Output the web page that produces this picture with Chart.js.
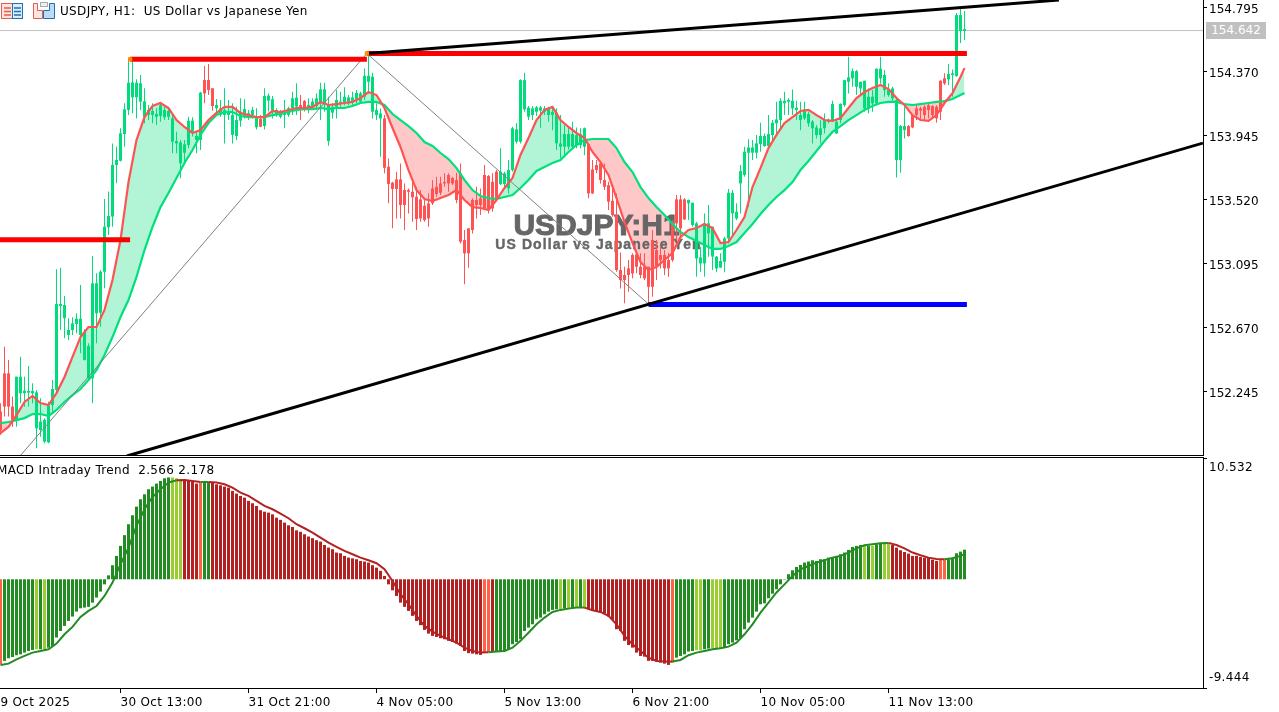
<!DOCTYPE html>
<html>
<head>
<meta charset="utf-8">
<title>USDJPY H1</title>
<script src="https://cdn.jsdelivr.net/npm/chart.js@4"></script>
<style>
  html, body { margin: 0; padding: 0; background: #fff; overflow: hidden; width: 1279px; height: 712px; }
  canvas { position: absolute; }
  .txt { position: absolute; font: 12px "DejaVu Sans", sans-serif; color: #000; white-space: pre; line-height: 16px; letter-spacing: 0.33px; }
  .rule { position: absolute; left: 0; width: 1204px; height: 1px; background: #000; }
  #lastPrice { left: 1206px; top: 22px; width: 60px; height: 17px; line-height: 17px; background: #c0c0c0; color: #fff; text-align: center; letter-spacing: 0; }
  #icons { position: absolute; left: 0; top: 0; }
</style>
</head>
<body>
<canvas id="priceChart" width="1295" height="455" style="left:-16px;top:0"></canvas>
<canvas id="macdChart" width="1295" height="262" style="left:-16px;top:450px"></canvas>
<div class="rule" style="top:455px"></div>
<div class="rule" style="top:457px"></div>
<svg id="icons" width="58" height="22">
  <rect x="1.5" y="3.5" width="11" height="15" fill="#fde3df" stroke="#e0604f"/>
  <rect x="12.5" y="3.5" width="10" height="15" fill="#dcecf8" stroke="#1f6fb2"/>
  <path d="M4 8h7M4 11.5h7M4 15h7" stroke="#e0604f" stroke-width="1.5"/>
  <path d="M14 8h7M14 11.5h7M14 15h7" stroke="#1f6fb2" stroke-width="1.5"/>
  <path d="M33.5 3.5h4v7h5v8h-9z" fill="#fde3df" stroke="#e0604f"/>
  <path d="M49.5 3.5h5v15h-11v-8h6z" fill="#bcdcf4" stroke="#1f6fb2"/>
  <rect x="40.5" y="2.5" width="7" height="4" fill="#eee" stroke="#aaa"/>
</svg>
<div class="txt" style="left:60px;top:3px">USDJPY, H1:  US Dollar vs Japanese Yen</div>
<div class="txt" style="left:-3px;top:462px">MACD Intraday Trend  2.566 2.178</div>
<div class="txt" id="lastPrice">154.642</div>

<script>
const symbolTitle = 'USDJPY:H1';
const symbolName = 'US Dollar vs Japanese Yen';
const lastPrice = 154.642;

const priceTicks = [154.795, 154.370, 153.945, 153.520, 153.095, 152.670, 152.245];
const macdTicks = [10.532, -9.444];
const timeTickBars = [-2, 30, 62, 94, 126, 158, 190, 222];
const timeTickLabels = ['29 Oct 2025', '30 Oct 13:00', '31 Oct 21:00', '4 Nov 05:00', '5 Nov 13:00', '6 Nov 21:00', '10 Nov 05:00', '11 Nov 13:00'];

// H1 candles, one value per bar
const highs = [
  152.167,152.543,152.455,152.212,152.344,152.477,152.344,152.415,152.300,152.256,
  152.200,152.068,152.178,152.322,153.057,153.068,152.880,152.732,152.738,152.765,
  152.953,152.659,152.566,153.145,153.030,153.052,153.524,153.573,153.893,153.871,
  153.993,154.159,154.451,154.442,154.318,154.347,154.259,154.148,154.159,154.126,
  154.159,154.137,154.137,154.093,153.971,153.916,153.916,154.070,154.066,153.971,
  154.236,154.407,154.420,154.259,154.188,154.181,154.259,154.181,154.159,154.137,
  154.192,154.186,154.115,154.137,154.126,154.082,154.259,154.225,154.208,154.126,
  154.115,154.181,154.137,154.236,154.292,154.214,154.181,154.192,154.192,154.225,
  154.296,154.296,154.203,154.159,154.247,154.236,154.265,154.214,154.236,154.247,
  154.236,154.391,154.502,154.362,154.159,154.125,154.081,153.793,153.638,153.705,
  153.760,153.627,153.594,153.650,153.605,153.583,153.517,153.561,153.650,153.672,
  153.672,153.694,153.694,153.672,153.698,153.760,153.318,153.329,153.528,153.605,
  153.594,153.749,153.683,153.694,153.716,153.860,153.705,153.782,154.004,154.026,
  154.318,154.362,154.141,154.141,154.141,154.141,154.141,154.136,154.136,154.125,
  154.081,154.015,154.004,154.037,153.999,153.993,153.999,153.893,153.782,153.782,
  153.771,153.760,153.638,153.594,153.561,153.169,153.074,153.118,153.163,153.163,
  153.163,153.163,153.074,153.318,153.251,153.207,153.185,153.163,153.384,153.550,
  153.550,153.528,153.521,153.499,153.373,153.207,153.428,153.484,153.340,153.145,
  153.163,153.273,153.590,153.583,153.495,153.749,153.871,153.920,153.915,153.948,
  154.030,153.959,154.081,154.048,154.170,154.192,154.236,154.192,154.251,154.176,
  154.170,154.170,154.103,154.048,154.015,154.048,154.092,154.059,154.176,154.048,
  154.159,154.313,154.468,154.391,154.380,154.302,154.309,154.258,154.247,154.391,
  154.468,154.380,154.291,154.269,154.192,154.015,154.136,154.015,154.088,154.147,
  154.136,154.147,154.159,154.147,154.147,154.313,154.358,154.420,154.384,154.759,
  154.792,154.772
];
const lows = [
  151.957,152.079,152.079,152.012,152.012,152.167,152.145,152.145,152.167,151.868,
  151.946,151.902,151.902,152.101,152.234,152.654,152.599,152.588,152.621,152.632,
  152.499,152.451,152.320,152.167,152.566,152.676,152.931,153.285,153.340,153.628,
  153.772,153.871,154.082,154.093,154.059,154.115,154.026,154.048,154.026,154.015,
  154.037,154.048,154.048,153.827,153.827,153.661,153.761,153.860,153.938,153.827,
  153.849,154.159,154.214,154.110,154.082,154.070,153.893,154.048,153.893,153.916,
  154.004,154.059,154.048,154.059,153.986,154.000,153.986,154.104,154.059,154.070,
  154.059,153.993,154.070,154.082,154.082,154.048,154.104,154.093,154.115,154.115,
  154.048,154.103,153.877,154.059,154.059,154.125,154.147,154.147,154.147,154.159,
  154.159,154.181,154.225,154.059,154.048,153.804,153.694,153.495,153.329,153.395,
  153.395,153.318,153.428,153.373,153.318,153.373,153.373,153.340,153.484,153.539,
  153.550,153.605,153.572,153.616,153.495,153.229,152.957,153.068,153.295,153.395,
  153.417,153.450,153.428,153.439,153.517,153.616,153.594,153.561,153.705,153.893,
  153.893,154.103,154.048,154.048,154.074,153.996,154.081,154.037,153.981,153.849,
  153.793,153.804,153.853,153.860,153.860,153.860,153.815,153.528,153.557,153.694,
  153.627,153.583,153.450,153.406,153.041,152.930,152.831,152.908,152.997,153.030,
  152.997,152.986,152.831,152.875,152.986,153.063,153.019,153.008,153.107,153.251,
  153.273,153.384,153.384,153.340,153.008,153.041,153.008,153.141,153.052,153.037,
  153.068,153.037,153.229,153.273,153.384,153.428,153.672,153.473,153.782,153.793,
  153.838,153.871,153.871,153.904,153.959,153.993,154.081,154.081,154.081,154.048,
  153.981,154.048,154.004,153.893,153.926,153.893,153.959,154.026,154.037,153.955,
  154.026,154.136,154.225,154.269,154.214,154.214,154.103,154.092,154.103,154.154,
  154.291,154.203,154.203,154.170,153.667,153.698,153.926,153.937,153.993,154.048,
  154.048,154.048,154.059,154.059,154.030,154.048,154.280,154.280,154.203,154.335,
  154.559,154.579
];
const bodyTops = [
  152.112,152.366,152.366,152.145,152.344,152.344,152.251,152.249,152.249,152.240,
  152.046,152.057,152.152,152.262,152.827,152.827,152.820,152.654,152.698,152.729,
  152.729,152.643,152.548,152.964,152.964,153.041,153.340,153.411,153.750,153.783,
  153.960,154.119,154.296,154.298,154.296,154.292,154.172,154.115,154.108,154.088,
  154.146,154.115,154.108,154.059,153.909,153.900,153.887,154.044,154.044,153.942,
  154.230,154.314,154.314,154.259,154.148,154.126,154.115,154.104,154.082,154.048,
  154.104,154.121,154.093,154.115,154.064,154.055,154.208,154.210,154.186,154.115,
  154.104,154.093,154.126,154.192,154.197,154.148,154.174,154.148,154.170,154.192,
  154.252,154.252,154.147,154.136,154.181,154.170,154.203,154.198,154.198,154.229,
  154.225,154.342,154.342,154.336,154.114,154.092,154.059,153.738,153.632,153.654,
  153.654,153.583,153.583,153.572,153.539,153.521,153.479,153.495,153.594,153.605,
  153.627,153.636,153.683,153.663,153.650,153.694,153.251,153.329,153.517,153.517,
  153.528,153.683,153.676,153.638,153.705,153.705,153.694,153.716,153.993,153.986,
  154.313,154.313,154.130,154.125,154.132,154.132,154.125,154.125,154.103,154.097,
  153.893,153.955,153.955,153.955,153.948,153.955,153.993,153.889,153.720,153.749,
  153.760,153.650,153.616,153.512,153.417,153.052,153.019,153.063,153.152,153.156,
  153.074,153.074,153.074,153.251,153.185,153.152,153.152,153.118,153.373,153.521,
  153.521,153.521,153.517,153.499,153.362,153.136,153.362,153.362,153.340,153.141,
  153.112,153.262,153.565,153.565,153.439,153.709,153.838,153.866,153.866,153.893,
  153.942,153.942,153.955,154.030,154.052,154.176,154.176,154.181,154.176,154.130,
  154.081,154.119,154.088,154.037,153.999,153.993,154.048,154.048,154.154,154.037,
  154.154,154.313,154.331,154.373,154.373,154.302,154.309,154.203,154.203,154.389,
  154.389,154.347,154.251,154.258,154.181,154.008,154.008,154.008,154.081,154.125,
  154.125,154.136,154.147,154.141,154.136,154.309,154.325,154.354,154.358,154.745,
  154.745,154.652
];
const bodyBottoms = [
  151.990,152.145,152.145,152.057,152.057,152.234,152.234,152.238,152.234,152.001,
  151.990,151.913,151.908,152.156,152.256,152.813,152.732,152.621,152.654,152.694,
  152.621,152.455,152.333,152.333,152.765,152.769,153.041,153.336,153.407,153.750,
  153.778,153.955,154.115,154.199,154.199,154.170,154.070,154.082,154.082,154.070,
  154.075,154.066,154.070,153.904,153.893,153.761,153.831,153.882,153.971,153.916,
  153.916,154.225,154.247,154.141,154.126,154.082,154.082,154.082,153.949,153.942,
  154.044,154.075,154.070,154.082,154.000,154.004,154.009,154.177,154.110,154.082,
  154.070,154.082,154.082,154.126,154.137,154.115,154.115,154.126,154.132,154.141,
  154.159,154.159,153.908,154.097,154.136,154.159,154.159,154.159,154.170,154.181,
  154.170,154.203,154.302,154.103,154.081,154.059,153.731,153.623,153.590,153.590,
  153.484,153.484,153.572,153.535,153.391,153.395,153.384,153.395,153.495,153.557,
  153.565,153.627,153.627,153.627,153.517,153.240,153.163,153.163,153.318,153.484,
  153.484,153.461,153.450,153.461,153.521,153.623,153.623,153.594,153.716,153.904,
  153.904,154.119,154.070,154.081,154.103,154.110,154.103,154.081,154.081,153.893,
  153.871,153.871,153.871,153.871,153.875,153.882,153.871,153.561,153.561,153.716,
  153.650,153.605,153.506,153.417,153.052,152.986,152.986,153.019,153.030,153.074,
  153.019,152.997,152.941,152.941,153.074,153.118,153.063,153.063,153.118,153.362,
  153.329,153.388,153.495,153.351,153.129,153.096,153.096,153.295,153.141,153.063,
  153.068,153.107,153.262,153.428,153.395,153.627,153.683,153.831,153.831,153.831,
  153.889,153.875,153.875,153.948,154.026,154.048,154.159,154.170,154.125,154.114,
  154.048,154.059,154.026,153.993,153.948,153.948,153.993,154.037,154.048,153.959,
  154.048,154.147,154.302,154.325,154.269,154.258,154.125,154.125,154.159,154.159,
  154.325,154.247,154.214,154.192,153.782,153.782,153.981,153.942,153.999,154.081,
  154.110,154.081,154.114,154.081,154.059,154.103,154.291,154.318,154.347,154.340,
  154.639,154.639
];
// runs of up (u) and down (d) candles
const candleDirRuns = [['d',4],['u',47],['d',3],['u',11],['d',1],['u',9],['d',2],['u',19],['d',29],['u',22],['d',25],['u',55],['d',10],['u',5]];

// moving averages, read at every second bar plus the last one
const fastMa = [
  151.970,152.010,152.089,152.176,152.216,152.169,152.156,152.235,152.342,152.475,
  152.607,152.674,152.674,152.787,152.986,153.251,153.636,153.915,154.068,154.141,
  154.161,154.128,154.048,154.002,153.962,153.982,154.048,154.095,154.135,154.135,
  154.095,154.081,154.068,154.068,154.108,154.101,154.115,154.128,154.128,154.135,
  154.168,154.148,154.154,154.161,154.168,154.194,154.234,154.214,154.128,153.995,
  153.869,153.716,153.583,153.524,153.510,153.530,153.550,153.583,153.517,153.470,
  153.464,153.451,153.517,153.597,153.663,153.816,153.929,154.048,154.115,154.135,
  154.048,154.002,153.962,153.929,153.836,153.769,153.683,153.530,153.371,153.231,
  153.105,153.052,153.072,153.119,153.165,153.271,153.318,153.331,153.358,153.331,
  153.231,153.238,153.318,153.404,153.603,153.729,153.862,153.949,154.028,154.068,
  154.108,154.115,154.081,154.048,154.042,154.061,154.128,154.194,154.234,154.261,
  154.281,154.254,154.194,154.148,154.081,154.048,154.042,154.081,154.161,154.227,
  154.334,154.393
];
const slowMa = [
  152.036,152.043,152.056,152.069,152.096,152.096,152.083,152.123,152.176,152.222,
  152.262,152.322,152.388,152.488,152.607,152.740,152.853,153.006,153.185,153.338,
  153.470,153.563,153.663,153.763,153.849,153.949,154.028,154.081,154.101,154.101,
  154.075,154.068,154.068,154.068,154.081,154.088,154.101,154.115,154.121,154.121,
  154.128,154.121,154.128,154.128,154.141,154.161,154.168,154.168,154.148,154.088,
  154.048,154.008,153.962,153.902,153.876,153.829,153.789,153.729,153.650,153.583,
  153.544,153.530,153.524,153.537,153.550,153.597,153.650,153.710,153.736,153.763,
  153.783,153.836,153.882,153.915,153.922,153.922,153.922,153.862,153.769,153.703,
  153.603,153.530,153.470,153.417,153.358,153.305,153.271,153.245,153.218,153.192,
  153.192,153.212,153.238,153.298,153.358,153.424,153.484,153.537,153.583,153.636,
  153.716,153.776,153.842,153.909,153.969,154.008,154.048,154.081,154.115,154.141,
  154.161,154.168,154.168,154.154,154.148,154.154,154.161,154.168,154.174,154.188,
  154.214,154.227
];

// drawn objects: bar positions and prices
const supportBars = [31.6, 300.6];
const supportPrices = [151.817, 153.895];
const resistanceBars = [91.6, 264.6];
const resistancePrices = [154.490, 154.845];
const zigzagBars = [5.1, 91.6, 162];
const zigzagPrices = [151.824, 154.490, 152.826];
const redLevels = [
  { bars: [-4, 32.4], price: 153.253 },
  { bars: [32.4, 91.6], price: 154.451 },
  { bars: [91.6, 241.6], price: 154.490 }
];
const blueLevelBars = [162, 241.6];
const blueLevelPrice = 152.823;
const swingBars = [32.4, 91.6];
const swingPrices = [154.451, 154.490];

// MACD histogram, one value per bar
const macdHist = [
  -7.38,-7.09,-6.86,-6.75,-6.60,-6.52,-6.37,-6.23,-6.14,-6.08,
  -6.08,-6.08,-5.94,-5.79,-5.06,-4.49,-4.05,-3.62,-3.24,-2.81,
  -2.52,-2.46,-2.40,-2.03,-1.59,-1.07,-0.44,0.34,1.22,2.03,
  2.90,3.83,4.78,5.56,6.31,6.95,7.38,7.82,8.05,8.31,
  8.54,8.77,8.84,8.84,8.77,8.69,8.66,8.60,8.48,8.31,
  8.40,8.45,8.45,8.40,8.25,8.16,8.05,7.96,7.67,7.44,
  7.24,7.09,6.81,6.60,6.37,6.00,5.87,5.79,5.64,5.35,
  5.16,4.92,4.69,4.54,4.25,4.12,3.91,3.71,3.57,3.39,
  3.27,2.98,2.75,2.61,2.32,2.26,2.03,1.88,1.82,1.74,
  1.59,1.54,1.45,1.22,1.01,0.73,0.29,-0.44,-0.96,-1.45,
  -2.03,-2.40,-2.75,-3.18,-3.62,-3.99,-4.40,-4.72,-4.92,-5.01,
  -5.12,-5.21,-5.35,-5.45,-5.59,-5.79,-6.23,-6.42,-6.46,-6.52,
  -6.57,-6.37,-6.31,-6.28,-6.28,-6.28,-6.23,-6.08,-5.64,-5.45,
  -5.21,-4.49,-4.20,-3.91,-3.47,-3.33,-3.04,-2.81,-2.66,-2.61,
  -2.61,-2.55,-2.55,-2.52,-2.46,-2.46,-2.52,-2.61,-2.75,-2.81,
  -2.90,-2.98,-3.24,-3.53,-4.34,-4.49,-5.35,-5.71,-5.94,-6.37,
  -6.66,-6.72,-7.09,-7.09,-7.15,-7.24,-7.33,-7.44,-7.24,-6.81,
  -6.66,-6.52,-6.28,-6.23,-6.16,-6.16,-6.08,-6.02,-6.00,-6.00,
  -6.00,-5.94,-5.64,-5.50,-5.30,-5.12,-4.34,-3.76,-3.33,-2.81,
  -2.17,-2.09,-1.65,-1.25,-0.87,-0.44,-0.03,0.44,0.78,1.07,
  1.25,1.45,1.54,1.65,1.59,1.74,1.74,1.88,1.94,2.03,
  2.17,2.32,2.55,2.81,2.90,2.98,2.98,2.90,2.90,3.04,
  3.13,3.10,3.10,2.98,2.75,2.52,2.37,2.23,2.03,2.03,
  1.94,1.88,1.88,1.70,1.59,1.74,1.74,1.74,1.80,2.26,
  2.40,2.57
];
// signal line, read at every second bar plus the last one
const macdSignal = [
  -7.44,-7.33,-6.95,-6.66,-6.37,-6.23,-6.08,-5.59,-4.78,-4.14,
  -3.27,-2.75,-2.32,-1.45,-0.29,1.30,2.75,4.64,6.08,7.15,
  7.82,8.40,8.60,8.63,8.54,8.45,8.45,8.40,8.25,7.96,
  7.53,7.24,6.81,6.37,6.08,5.71,5.30,4.78,4.43,4.05,
  3.62,3.18,2.81,2.46,2.17,1.88,1.65,1.39,0.87,-0.15,
  -1.30,-2.17,-3.18,-4.05,-4.54,-4.92,-5.21,-5.50,-5.94,-6.23,
  -6.37,-6.34,-6.28,-6.23,-5.94,-5.35,-4.64,-3.91,-3.33,-2.84,
  -2.66,-2.55,-2.46,-2.46,-2.69,-2.84,-3.18,-3.91,-4.92,-5.64,
  -6.23,-6.81,-7.09,-7.15,-7.15,-7.01,-6.60,-6.37,-6.23,-6.08,
  -6.00,-5.85,-5.50,-4.78,-3.91,-2.90,-2.03,-1.15,-0.44,0.29,
  0.87,1.15,1.45,1.65,1.88,2.03,2.32,2.69,2.95,3.04,
  3.13,3.16,2.98,2.69,2.32,2.09,1.88,1.77,1.74,1.82,
  2.03,2.178
];
// runs of histogram state: g rising, l weak rising, r falling, o weak falling
const macdStateRuns = [['o',1],['g',8],['l',1],['g',1],['l',1],['g',31],['l',3],['r',4],['o',1],['g',2],['r',68],['o',2],['r',1],['g',16],['l',1],['g',1],['l',1],['g',1],['l',1],['g',1],['l',1],['r',21],['o',1],['g',5],['l',2],['g',2],['l',3],['g',35],['l',1],['g',1],['l',1],['g',2],['l',2],['r',12],['o',2],['g',5]];

const fontFamily = '"DejaVu Sans", sans-serif';
const COLORS = {
  up: '#00dc7a', down: '#ff5252', fast: '#ff5252', slow: '#00e07c',
  fillUp: '#b2f5d6', fillDown: '#ffc8c8', level: '#ff0000', blue: '#0000ff',
  zigzag: '#808080', priceLine: '#c0c0c0', swing: '#ff8c00', watermark: '#666666',
  g: '#228b22', l: '#9acd32', r: '#b22222', o: '#ff6347'
};

const expandRuns = runs => runs.flatMap(([k, n]) => Array(n).fill(k));
const candleDirs = expandRuns(candleDirRuns);
const macdStates = expandRuns(macdStateRuns);
const lineBars = fastMa.map((_, i) => Math.min(i * 2, 241));
const barIndex = highs.map((_, i) => i);
const segment = (bars, prices) => bars.map((b, i) => ({ x: b, y: prices[i] }));
const X_MIN = -4.125, X_MAX = 300.625;
const PRICE_MIN = 151.824, PRICE_MAX = 154.845;

const plainLine = (data, color, width, order) => ({
  type: 'line', data, borderColor: color, borderWidth: width, pointRadius: 0, order, fill: false, tension: 0
});

const watermarkPlugin = {
  id: 'watermark',
  beforeDatasetsDraw(chart) {
    const ctx = chart.ctx;
    ctx.save();
    ctx.fillStyle = COLORS.watermark;
    ctx.strokeStyle = COLORS.watermark;
    ctx.textAlign = 'center';
    ctx.textBaseline = 'middle';
    ctx.font = 'bold 30px "Liberation Sans", sans-serif';
    ctx.lineWidth = 1;
    ctx.fillText(symbolTitle, 612.5, 227);
    ctx.strokeText(symbolTitle, 612.5, 227);
    ctx.font = 'bold 14px "Liberation Sans", sans-serif';
    ctx.letterSpacing = '1.1px';
    ctx.lineWidth = 0.4;
    ctx.fillText(symbolName, 614.5, 245);
    ctx.strokeText(symbolName, 614.5, 245);
    ctx.restore();
  }
};

// the date labels run a little wider than the font sets them
const wideLabelsPlugin = {
  id: 'wideLabels',
  beforeDraw(chart) { chart.ctx.letterSpacing = '0.33px'; }
};

// keep the axes from pushing the plot area in for half a label
const fixedAxisWidth = scale => {
  scale.width = 76;
  scale.paddingTop = 0;
  scale.paddingBottom = 0;
};

new Chart(document.getElementById('priceChart'), {
  data: {
    datasets: [
      plainLine(segment(lineBars, slowMa), COLORS.slow, 2.2, 4),
      Object.assign(plainLine(segment(lineBars, fastMa), COLORS.fast, 2.2, 3), {
        fill: { target: 0, above: COLORS.fillUp, below: COLORS.fillDown }
      }),
      plainLine(segment([X_MIN, X_MAX], [lastPrice, lastPrice]), COLORS.priceLine, 1, 12),
      {
        type: 'bar', grouped: false, order: 10, barThickness: 1, inflateAmount: 0,
        data: barIndex.map(i => ({ x: i, y: [lows[i], highs[i]] })),
        backgroundColor: candleDirs.map(d => d === 'u' ? COLORS.up : COLORS.down)
      },
      {
        type: 'bar', grouped: false, order: 9, barThickness: 3, inflateAmount: 0,
        data: barIndex.map(i => ({ x: i, y: [bodyBottoms[i], bodyTops[i]] })),
        backgroundColor: candleDirs.map(d => d === 'u' ? COLORS.up : COLORS.down)
      },
      plainLine(segment(zigzagBars, zigzagPrices), COLORS.zigzag, 1, 2),
      ...redLevels.map(l => plainLine(segment(l.bars, [l.price, l.price]), COLORS.level, 5, 1)),
      plainLine(segment(blueLevelBars, [blueLevelPrice, blueLevelPrice]), COLORS.blue, 5, 1),
      plainLine(segment(supportBars, supportPrices), '#000', 3, 0),
      plainLine(segment(resistanceBars, resistancePrices), '#000', 3, 0),
      {
        type: 'scatter', order: -1, data: segment(swingBars, swingPrices),
        pointStyle: 'rect', pointRadius: 3, pointBorderWidth: 0, backgroundColor: COLORS.swing
      }
    ]
  },
  options: {
    responsive: false,
    animation: false,
    events: [],
    layout: { padding: 0, autoPadding: false },
    plugins: { legend: { display: false }, tooltip: { enabled: false }, filler: { propagate: false, drawTime: 'beforeDatasetsDraw' } },
    scales: {
      x: { type: 'linear', display: false, offset: false, min: X_MIN, max: X_MAX },
      y: {
        position: 'right', min: PRICE_MIN, max: PRICE_MAX,
        afterFit: fixedAxisWidth,
        afterBuildTicks: scale => { scale.ticks = priceTicks.map(v => ({ value: v })); },
        border: { color: '#000' },
        grid: { drawOnChartArea: false, color: '#000', tickLength: 4 },
        ticks: {
          color: '#000', padding: 2, autoSkip: false,
          font: { family: fontFamily, size: 12, lineHeight: '4px' },
          // empty first line sets the label a touch below its tick
          callback: v => ['', v.toFixed(3)]
        }
      }
    }
  },
  plugins: [watermarkPlugin]
});

new Chart(document.getElementById('macdChart'), {
  data: {
    datasets: [
      {
        type: 'line', order: 1, pointRadius: 0, borderWidth: 2, tension: 0, borderColor: COLORS.g,
        data: segment(lineBars, macdSignal),
        segment: { borderColor: c => (macdStates[c.p1.parsed.x] === 'r' || macdStates[c.p1.parsed.x] === 'o') ? COLORS.r : COLORS.g }
      },
      {
        type: 'bar', order: 2, barThickness: 3, inflateAmount: 0,
        data: barIndex.map(i => ({ x: i, y: macdHist[i] })),
        backgroundColor: macdStates.map(s => COLORS[s])
      }
    ]
  },
  options: {
    responsive: false,
    animation: false,
    events: [],
    layout: { padding: { top: 8 }, autoPadding: false },
    plugins: { legend: { display: false }, tooltip: { enabled: false } },
    scales: {
      x: {
        type: 'linear', offset: false, min: X_MIN, max: X_MAX,
        afterFit: scale => { scale.height = 24; scale.paddingLeft = 0; scale.paddingRight = 0; },
        afterBuildTicks: scale => { scale.ticks = timeTickBars.map(v => ({ value: v })); },
        border: { color: '#000' },
        grid: { offset: false, drawOnChartArea: false, color: '#000', tickLength: 5 },
        ticks: {
          color: '#000', padding: 3, align: 'start', autoSkip: false, maxRotation: 0, minRotation: 0,
          font: { family: fontFamily, size: 12 },
          callback: v => timeTickLabels[timeTickBars.indexOf(v)]
        }
      },
      y: {
        position: 'right', min: macdTicks[1], max: macdTicks[0],
        afterFit: fixedAxisWidth,
        afterBuildTicks: scale => { scale.ticks = macdTicks.map(v => ({ value: v })); },
        border: { color: '#000' },
        grid: { drawOnChartArea: false, color: '#000', tickLength: 4 },
        ticks: {
          color: '#000', padding: 2, autoSkip: false,
          font: { family: fontFamily, size: 12, lineHeight: '20px' },
          // the top label sits under its tick and the bottom one above it
          callback: v => v > 0 ? ['', v.toFixed(3)] : [v.toFixed(3), '']
        }
      }
    }
  },
  plugins: [wideLabelsPlugin]
});
</script>
</body>
</html>
